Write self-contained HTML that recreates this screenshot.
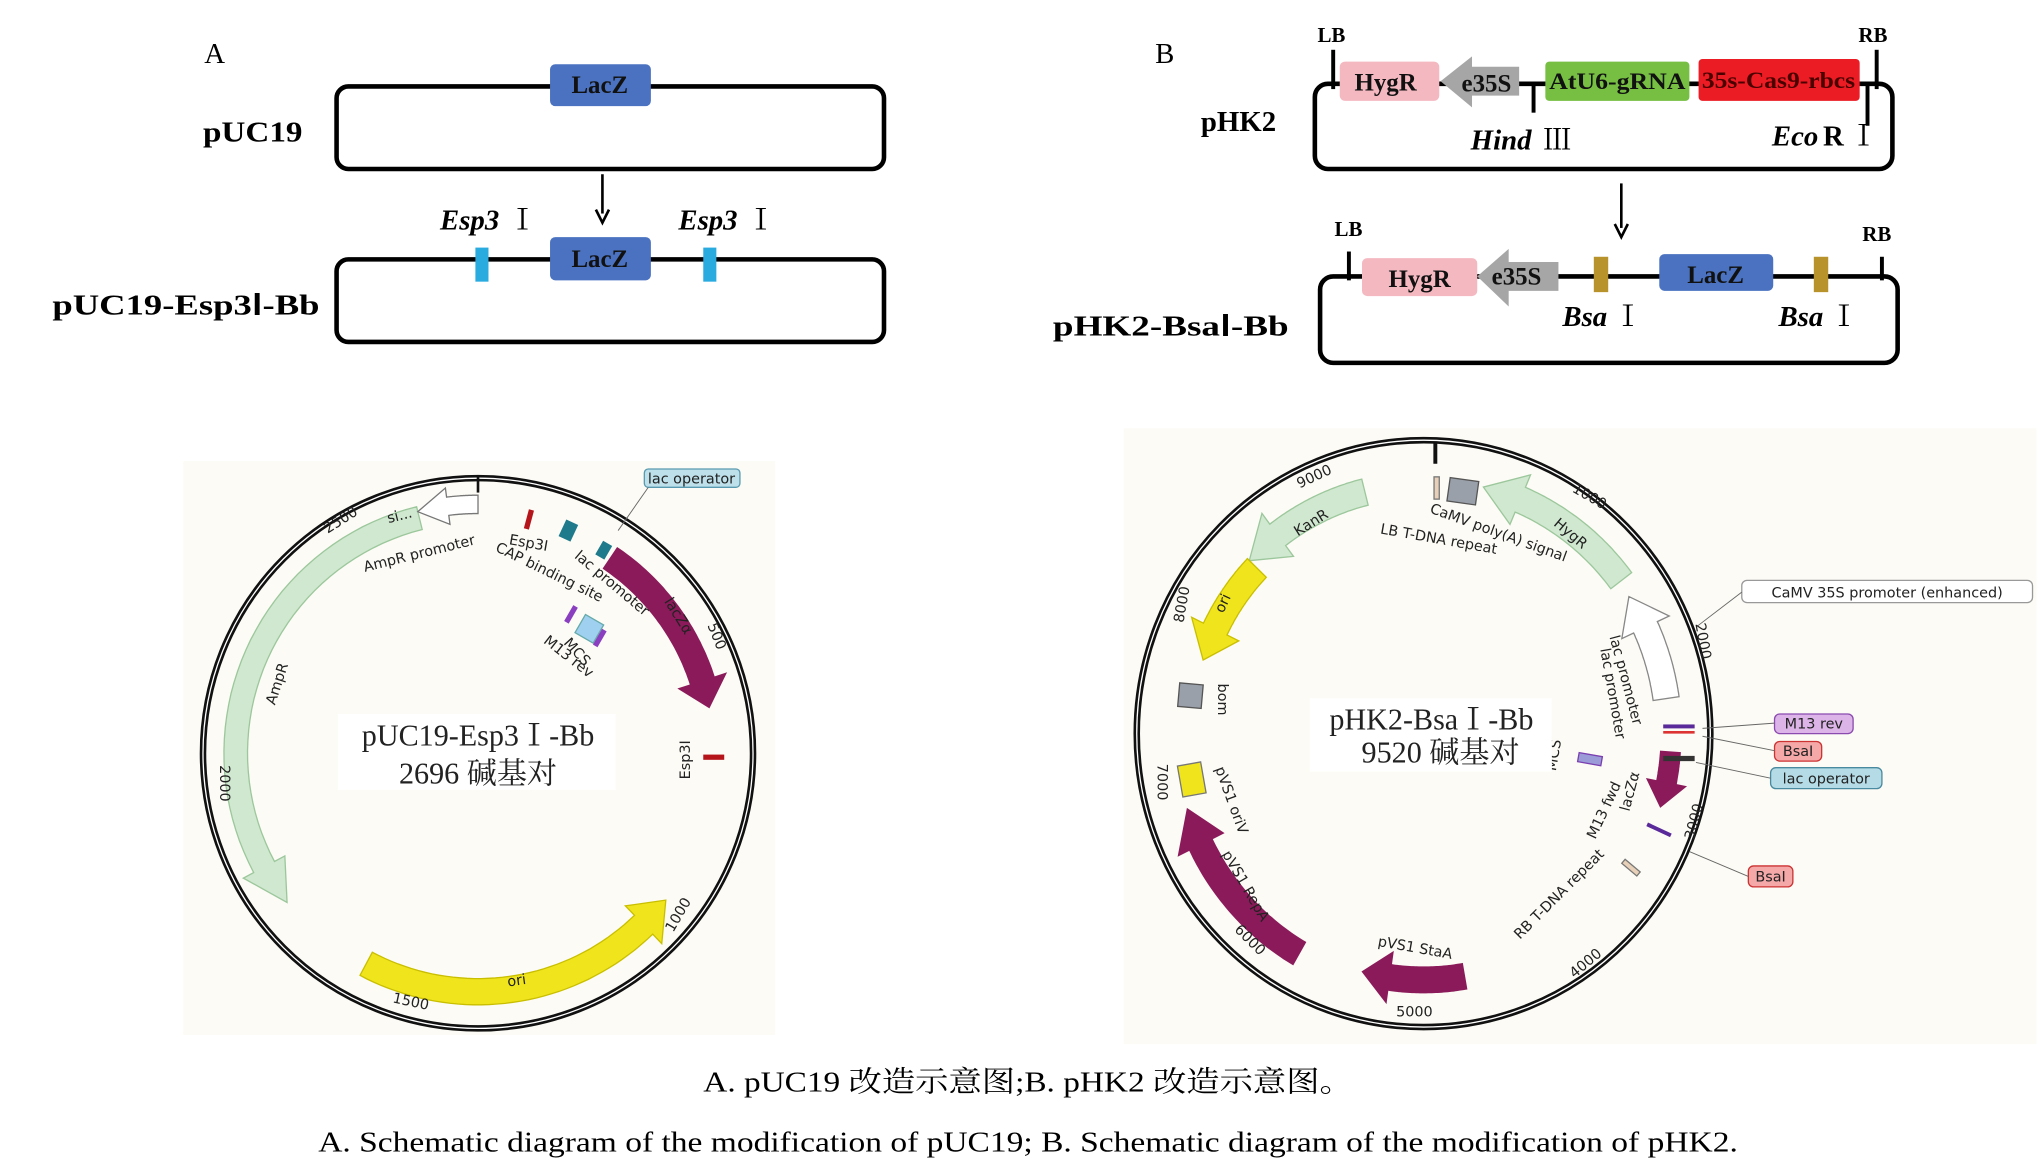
<!DOCTYPE html>
<html><head><meta charset="utf-8">
<style>
html,body{margin:0;padding:0;background:#fff;}
svg{display:block;}
.s{font-family:"Liberation Serif","Noto Serif CJK SC",serif;}
.b{font-family:"Liberation Serif",serif;font-weight:bold;}
.m{font-family:"DejaVu Sans","Liberation Sans",sans-serif;font-size:11px;fill:#222;}
</style></head><body>
<svg id="sv" width="2043" height="1162" viewBox="0 0 1560 887" preserveAspectRatio="none" xmlns="http://www.w3.org/2000/svg">
<rect width="1560" height="887" fill="#fff"/>
<!-- Panel A -->
<text x="156" y="48" class="s" font-size="22">A</text>
<rect x="257" y="66" width="418" height="63" rx="9" fill="none" stroke="#000" stroke-width="3.5"/>
<rect x="420" y="49" width="77" height="32" rx="4" fill="#4a72c0"/>
<text x="458" y="71" class="b" font-size="19" text-anchor="middle" fill="#111">LacZ</text>
<text x="155" y="108" class="b" font-size="22" textLength="76" lengthAdjust="spacingAndGlyphs">pUC19</text>
<line x1="460" y1="133" x2="460" y2="163" stroke="#000" stroke-width="2"/>
<path d="M455 160 L460 170 L465 160" fill="none" stroke="#000" stroke-width="2"/>
<text x="336" y="175" class="b" font-size="22" font-style="italic">Esp3</text><text x="388" y="175" class="s" font-size="22">Ⅰ</text>
<text x="518" y="175" class="b" font-size="22" font-style="italic">Esp3</text><text x="570" y="175" class="s" font-size="22">Ⅰ</text>
<rect x="257" y="198" width="418" height="63" rx="9" fill="none" stroke="#000" stroke-width="3.5"/>
<rect x="363" y="189" width="10" height="26" fill="#2aabe0"/>
<rect x="537" y="189" width="10" height="26" fill="#2aabe0"/>
<rect x="420" y="181" width="77" height="33" rx="4" fill="#4a72c0"/>
<text x="458" y="204" class="b" font-size="19" text-anchor="middle" fill="#111">LacZ</text>
<text x="40" y="240" class="b" font-size="22" textLength="204" lengthAdjust="spacingAndGlyphs">pUC19-Esp3Ⅰ-Bb</text>

<!-- Panel B -->
<text x="882" y="48" class="s" font-size="22">B</text>
<text x="1006" y="32" class="b" font-size="16">LB</text>
<text x="1419" y="32" class="b" font-size="16">RB</text>
<line x1="1018" y1="38" x2="1018" y2="68" stroke="#000" stroke-width="3"/>
<line x1="1433" y1="38" x2="1433" y2="68" stroke="#000" stroke-width="3"/>
<rect x="1004" y="64" width="441" height="65" rx="10" fill="none" stroke="#000" stroke-width="3.5"/>
<rect x="1023" y="47" width="76" height="30" rx="4" fill="#f4b8c1"/>
<text x="1058" y="69" class="b" font-size="19" text-anchor="middle" fill="#111">HygR</text>
<path d="M1100 62 L1124 43 L1124 51 L1160 51 L1160 73 L1124 73 L1124 82 Z" fill="#a6a6a6"/>
<text x="1135" y="70" class="b" font-size="19" text-anchor="middle" fill="#111">e35S</text>
<line x1="1171" y1="64" x2="1171" y2="86" stroke="#000" stroke-width="3"/>
<rect x="1180" y="47" width="110" height="30" rx="3" fill="#76bf42"/>
<text x="1235" y="68" class="b" font-size="18" text-anchor="middle" fill="#111" textLength="104" lengthAdjust="spacingAndGlyphs">AtU6-gRNA</text>
<rect x="1297" y="45" width="123" height="32" rx="3" fill="#ec1c24"/>
<text x="1358" y="67" class="b" font-size="18" text-anchor="middle" fill="#4a0000" textLength="117" lengthAdjust="spacingAndGlyphs">35s-Cas9-rbcs</text>
<line x1="1426" y1="64" x2="1426" y2="96" stroke="#000" stroke-width="3"/>
<text x="1123" y="114" class="b" font-size="22" font-style="italic">Hind</text><text x="1178" y="114" class="s" font-size="22">Ⅲ</text>
<text x="1353" y="111" class="b" font-size="22" font-style="italic">Eco</text><text x="1392" y="111" class="b" font-size="22">R</text><text x="1412" y="111" class="s" font-size="22">Ⅰ</text>
<text x="917" y="100" class="b" font-size="22">pHK2</text>
<line x1="1238" y1="140" x2="1238" y2="174" stroke="#000" stroke-width="2"/>
<path d="M1233 171 L1238 181 L1243 171" fill="none" stroke="#000" stroke-width="2"/>
<text x="1019" y="180" class="b" font-size="16">LB</text>
<text x="1422" y="184" class="b" font-size="16">RB</text>
<line x1="1030" y1="192" x2="1030" y2="214" stroke="#000" stroke-width="3"/>
<line x1="1437" y1="196" x2="1437" y2="214" stroke="#000" stroke-width="3"/>
<rect x="1008" y="211" width="441" height="66" rx="10" fill="none" stroke="#000" stroke-width="3.5"/>
<rect x="1040" y="197" width="88" height="29" rx="4" fill="#f4b8c1"/>
<text x="1084" y="219" class="b" font-size="19" text-anchor="middle" fill="#111">HygR</text>
<path d="M1128 211 L1152 190 L1152 200 L1190 200 L1190 222 L1152 222 L1152 234 Z" fill="#a6a6a6"/>
<text x="1158" y="217" class="b" font-size="19" text-anchor="middle" fill="#111">e35S</text>
<rect x="1217" y="196" width="11" height="27" fill="#b8922b"/>
<rect x="1385" y="196" width="11" height="27" fill="#b8922b"/>
<rect x="1267" y="194" width="87" height="28" rx="4" fill="#4a72c0"/>
<text x="1310" y="216" class="b" font-size="19" text-anchor="middle" fill="#111">LacZ</text>
<text x="1193" y="249" class="b" font-size="22" font-style="italic">Bsa</text><text x="1232" y="249" class="s" font-size="22">Ⅰ</text>
<text x="1358" y="249" class="b" font-size="22" font-style="italic">Bsa</text><text x="1397" y="249" class="s" font-size="22">Ⅰ</text>
<text x="804" y="256" class="b" font-size="22" textLength="180" lengthAdjust="spacingAndGlyphs">pHK2-BsaⅠ-Bb</text>

<!-- Map backgrounds -->
<rect x="140" y="352" width="452" height="438" fill="#fcfbf5"/>
<rect x="858" y="327" width="697" height="470" fill="#fcfbf5"/>
<g id="mapA"></g>
<g id="mapB"></g>

<!-- Captions -->
<text x="785" y="833" class="s" font-size="22" text-anchor="middle" textLength="496" lengthAdjust="spacingAndGlyphs">A. pUC19 改造示意图;B. pHK2 改造示意图。</text>
<text x="785" y="879" class="s" font-size="22" text-anchor="middle" textLength="1084" lengthAdjust="spacingAndGlyphs">A. Schematic diagram of the modification of pUC19; B. Schematic diagram of the modification of pHK2.</text>
</svg>
<script>
var NS="http://www.w3.org/2000/svg";
function el(g,t,a,txt){var e=document.createElementNS(NS,t);for(var k in a)e.setAttribute(k,a[k]);if(txt!==undefined)e.textContent=txt;g.appendChild(e);return e;}
function P(cx,cy,rx,ry,a){a=a*Math.PI/180;return [cx+rx*Math.sin(a),cy-ry*Math.cos(a)];}
function arrow(g,cx,cy,rx,ry,w,a1,a2,head,fill,stroke){
 var s=a2>a1?1:-1,ah=a2-s*head,pts=[],i,n=40,k=ry/rx;
 for(i=0;i<=n;i++){var a=a1+(ah-a1)*i/n;pts.push(P(cx,cy,rx+w/2,ry+w/2*k,a));}
 pts.push(P(cx,cy,rx+w,ry+w*k,ah));pts.push(P(cx,cy,rx,ry,a2));pts.push(P(cx,cy,rx-w,ry-w*k,ah));
 for(i=n;i>=0;i--){var a=a1+(ah-a1)*i/n;pts.push(P(cx,cy,rx-w/2,ry-w/2*k,a));}
 el(g,"path",{d:"M"+pts.map(function(p){return p[0].toFixed(1)+" "+p[1].toFixed(1)}).join(" L")+"Z",fill:fill,stroke:stroke||"none","stroke-width":1});
}
function txt(g,x,y,r,s,t,extra){var a={x:x,y:y,"class":"m","text-anchor":"middle",transform:"rotate("+r+" "+x+" "+y+")"};if(s)a["font-size"]=s;for(var k in extra)a[k]=extra[k];return el(g,"text",a,t);}
// Map A
var g=document.getElementById("mapA"),cx=365,cy=575,R=210;
el(g,"ellipse",{cx:cx,cy:cy,rx:R,ry:R,fill:"none",stroke:"#111","stroke-width":5});
el(g,"ellipse",{cx:cx,cy:cy,rx:R,ry:R,fill:"none",stroke:"#fff","stroke-width":1});
el(g,"line",{x1:365,y1:363,x2:365,y2:376,stroke:"#111","stroke-width":2});
arrow(g,cx,cy,185,185,18,-14,-128,10,"#cfe8cf","#9cc79c");
arrow(g,cx,cy,190,190,14,0,-14,7,"#fff","#777");
arrow(g,cx,cy,182,182,20,208,128,8,"#f0e51c","#c9bf00");
arrow(g,cx,cy,180,180,20,34,79,7,"#8b1a5a");
el(g,"rect",{x:402,y:389,width:4,height:15,fill:"#b5141b",transform:"rotate(15 404 396)"});
el(g,"rect",{x:537,y:576,width:16,height:4,fill:"#b5141b"});
el(g,"rect",{x:429,y:398,width:10,height:14,fill:"#1f7a8c",transform:"rotate(25 434 405)"});
el(g,"rect",{x:457,y:414,width:8,height:12,fill:"#1f7a8c",transform:"rotate(30 461 420)"});
el(g,"rect",{x:442,y:472,width:16,height:16,fill:"#9fd0ef",stroke:"#6aa",transform:"rotate(30 450 480)"});
el(g,"rect",{x:434,y:462,width:4,height:14,fill:"#8a3fc1",transform:"rotate(30 436 469)"});
el(g,"rect",{x:456,y:480,width:4,height:14,fill:"#8a3fc1",transform:"rotate(30 458 487)"});
el(g,"rect",{x:492,y:358,width:73,height:14,rx:3,fill:"#bde0ea",stroke:"#5a9ab0"});
txt(g,528,369,0,11,"lac operator");
el(g,"line",{x1:495,y1:372,x2:472,y2:405,stroke:"#666","stroke-width":0.7});
txt(g,306,397,-14,11,"si...",{fill:"#2a6a2a"});
txt(g,321,426,-14,11,"AmpR promoter");
txt(g,403,418,10,11,"Esp3I");
txt(g,418,440,26,11,"CAP binding site");
txt(g,465,448,40,11,"lac promoter");
txt(g,515,472,58,11,"lacZα",{fill:"#f8d0e8"});
txt(g,432,504,38,11,"M13 rev");
txt(g,438,500,48,11,"MCS");
txt(g,215,523,-72,11,"AmpR");
txt(g,395,752,-8,11,"ori");
txt(g,527,580,-90,11,"Esp3I");
txt(g,262,400,-32,11,"2500");
txt(g,544,487,68,11,"500");
txt(g,168,598,90,11,"2000");
txt(g,521,700,-60,11,"1000");
txt(g,313,768,12,11,"1500");
el(g,"rect",{x:258,y:545,width:212,height:58,fill:"#fff"});
el(g,"text",{x:365,y:569,"class":"s","font-size":23,"text-anchor":"middle",fill:"#222"},"pUC19-Esp3Ⅰ-Bb");
el(g,"text",{x:365,y:598,"class":"s","font-size":23,"text-anchor":"middle",fill:"#222"},"2696 碱基对");
// Map B
g=document.getElementById("mapB");cx=1087;cy=560;var rx=219,ry=224;
el(g,"ellipse",{cx:cx,cy:cy,rx:rx,ry:ry,fill:"none",stroke:"#111","stroke-width":5});
el(g,"ellipse",{cx:cx,cy:cy,rx:rx,ry:ry,fill:"none",stroke:"#fff","stroke-width":1});
el(g,"line",{x1:1096,y1:338,x2:1096,y2:354,stroke:"#111","stroke-width":3});
arrow(g,cx,cy,rx-34,ry-34,20,-14,-46,9,"#cfe8cf","#9cc79c");
arrow(g,cx,cy,rx-42,ry-42,20,-46,-72,8,"#f0e51c","#c9bf00");
arrow(g,cx,cy,rx-30,ry-30,20,-150,-107,9,"#8b1a5a");
arrow(g,cx,cy,rx-36,ry-36,20,170,195,7,"#8b1a5a");
arrow(g,cx,cy,rx-30,ry-30,20,53,14,9,"#cfe8cf","#9cc79c");
arrow(g,cx,cy,rx-32,ry-32,20,82,57,8,"#fff","#888");
arrow(g,cx,cy,rx-30,ry-30,16,94,107,6,"#8b1a5a");
el(g,"rect",{x:900,y:522,width:18,height:18,fill:"#9aa0aa",stroke:"#555",transform:"rotate(5 909 531)"});
el(g,"rect",{x:901,y:583,width:18,height:24,fill:"#f0e51c",stroke:"#777",transform:"rotate(-10 910 595)"});
el(g,"rect",{x:1106,y:366,width:22,height:18,fill:"#9aa0aa",stroke:"#555",transform:"rotate(8 1117 375)"});
el(g,"rect",{x:1095,y:364,width:4,height:17,fill:"#e8d0b8",stroke:"#777"});
el(g,"rect",{x:1243,y:655,width:4,height:15,fill:"#e8d0b8",stroke:"#777",transform:"rotate(-50 1245 662)"});
el(g,"rect",{x:1205,y:576,width:18,height:7,fill:"#9b9bd8",stroke:"#7a3fb0",transform:"rotate(10 1214 580)"});
el(g,"rect",{x:1270,y:553,width:24,height:3,fill:"#5a2a9a"});el(g,"rect",{x:1270,y:558,width:24,height:2,fill:"#d33"});
el(g,"rect",{x:1270,y:577,width:24,height:4,fill:"#333"});
el(g,"rect",{x:1257,y:632,width:20,height:3,fill:"#5a2a9a",transform:"rotate(25 1267 633)"});
function box(x,y,w,h,f,s,t){el(g,"rect",{x:x,y:y,width:w,height:h,rx:4,fill:f,stroke:s});el(g,"text",{x:x+w/2,y:y+h-4,"class":"m","text-anchor":"middle","font-size":12},t);}
box(1330,443,222,17,"#fff","#999","CaMV 35S promoter (enhanced)");
box(1355,545,60,15,"#dcb4e8","#8a4ab0","M13 rev");
box(1355,566,36,15,"#f5a8a8","#c33","BsaI");
box(1352,586,85,16,"#b5dce6","#4a8aa0","lac operator");
box(1335,661,34,16,"#f5a8a8","#c33","BsaI");
[[1330,452,1296,478],[1355,552,1300,556],[1355,573,1300,562],[1352,594,1295,582],[1335,669,1290,650]].forEach(function(l){el(g,"line",{x1:l[0],y1:l[1],x2:l[2],y2:l[3],stroke:"#666","stroke-width":0.7});});
txt(g,1003,402,-32,12,"KanR");
txt(g,937,462,-65,12,"ori");
txt(g,930,534,90,11,"bom");
txt(g,937,612,70,12,"pVS1 oriV");
txt(g,948,678,60,13,"pVS1 RepA",{fill:"#fff"});
txt(g,1080,727,10,12,"pVS1 StaA");
txt(g,1197,410,40,12,"HygR");
txt(g,1143,410,20,12,"CaMV poly(A) signal");
txt(g,1098,415,10,12,"LB T-DNA repeat");
txt(g,1238,520,75,12,"lac promoter");
txt(g,1228,530,80,12,"lac promoter");
txt(g,1190,577,-80,12,"MCS");
txt(g,1248,605,-75,12,"lacZα");
txt(g,1228,620,-65,12,"M13 fwd");
txt(g,1193,685,-45,12,"RB T-DNA repeat");
txt(g,1005,367,-25,11,"9000");
txt(g,1212,382,30,11,"1000");
txt(g,906,462,-80,11,"8000");
txt(g,1297,490,80,11,"2000");
txt(g,884,597,90,11,"7000");
txt(g,1297,628,-75,11,"3000");
txt(g,952,720,45,11,"6000");
txt(g,1213,738,-40,11,"4000");
txt(g,1080,776,0,11,"5000");
el(g,"rect",{x:1000,y:533,width:185,height:56,fill:"#fff"});
el(g,"text",{x:1093,y:557,"class":"s","font-size":23,"text-anchor":"middle",fill:"#222"},"pHK2-BsaⅠ-Bb");
el(g,"text",{x:1100,y:582,"class":"s","font-size":23,"text-anchor":"middle",fill:"#222"},"9520 碱基对");
</script>
</body></html>
